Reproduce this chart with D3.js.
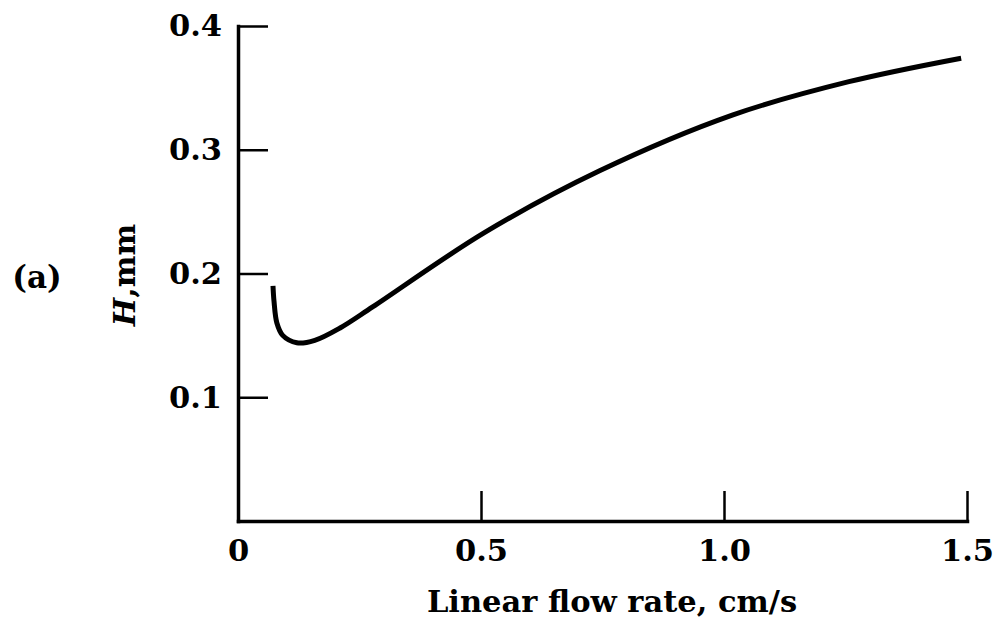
<!DOCTYPE html>
<html>
<head>
<meta charset="utf-8">
<script src="https://cdn.jsdelivr.net/npm/d3@7"></script>
<style>
  body { margin: 0; background: #fff; }
  text { font-family: "DejaVu Serif", serif; font-weight: bold; fill: #000; }
</style>
</head>
<body>
<div class="visHolder"></div>
<script>
// Curve: flow rate (cm/s) vs plate height H (mm)
const flowRate = [0.072, 0.074, 0.080, 0.092, 0.121, 0.158, 0.21, 0.277, 0.507, 0.744, 1.017, 1.257, 1.488];
const plateHeight = [0.190, 0.178, 0.160, 0.150, 0.144, 0.146, 0.156, 0.173, 0.233, 0.283, 0.328, 0.355, 0.374];

const xTicks = [0, 0.5, 1.0, 1.5];
const xTickLabels = ["0", "0.5", "1.0", "1.5"];
const yTicks = [0.1, 0.2, 0.3, 0.4];
const yTickLabels = ["0.1", "0.2", "0.3", "0.4"];

const width = 994;
const height = 639;

const svg = d3
  .select(".visHolder")
  .append("svg")
  .attr("width", width)
  .attr("height", height);

// Scales
const xScale = d3.scaleLinear().domain([0, 1.5]).range([238, 967]);
const yScale = d3.scaleLinear().domain([0, 0.4]).range([521, 26]);

// Axes (ticks point into the plot)
const xAxis = d3
  .axisBottom(xScale)
  .tickValues(xTicks)
  .tickFormat((d, i) => xTickLabels[i])
  .tickSizeInner(-30)
  .tickSizeOuter(0)
  .tickPadding(18);

const yAxis = d3
  .axisLeft(yScale)
  .tickValues(yTicks)
  .tickFormat((d, i) => yTickLabels[i])
  .tickSizeInner(-30)
  .tickSizeOuter(0)
  .tickPadding(16);

const gx = svg
  .append("g")
  .attr("transform", `translate(0, ${yScale(0)})`)
  .call(xAxis);

const gy = svg
  .append("g")
  .attr("transform", `translate(${xScale(0)}, 0)`)
  .call(yAxis);

[gx, gy].forEach((g) => {
  g.select(".domain").attr("stroke", "#000").attr("stroke-width", 3.5).attr("stroke-linecap", "square");
  g.selectAll(".tick line").attr("stroke", "#000").attr("stroke-width", 2.5);
  g.selectAll(".tick text")
    .attr("font-family", "DejaVu Serif")
    .attr("font-weight", "bold")
    .style("font-size", "30.5px");
});
// the y axis already draws the line at x = 0
gx.selectAll(".tick line").filter((d) => d === 0).remove();

// Curve
const line = d3
  .line()
  .x((d) => xScale(d[0]))
  .y((d) => yScale(d[1]))
  .curve(d3.curveCatmullRom.alpha(0.5));

svg
  .append("path")
  .datum(flowRate.map((f, i) => [f, plateHeight[i]]))
  .attr("d", line)
  .attr("fill", "none")
  .attr("stroke", "#000")
  .attr("stroke-width", 5)
  .attr("stroke-linecap", "butt");

// Axis titles
svg
  .append("text")
  .attr("x", 612)
  .attr("y", 612)
  .attr("text-anchor", "middle")
  .style("font-size", "30.5px")
  .text("Linear flow rate, cm/s");

const yTitle = svg
  .append("text")
  .attr("transform", "translate(135, 275) rotate(-90)")
  .attr("text-anchor", "middle")
  .style("font-size", "30px");
yTitle.append("tspan").style("font-style", "italic").text("H");
yTitle.append("tspan").text(",mm");

// Panel label
svg
  .append("text")
  .attr("x", 37)
  .attr("y", 288)
  .attr("text-anchor", "middle")
  .style("font-size", "31px")
  .text("(a)");
</script>
</body>
</html>
